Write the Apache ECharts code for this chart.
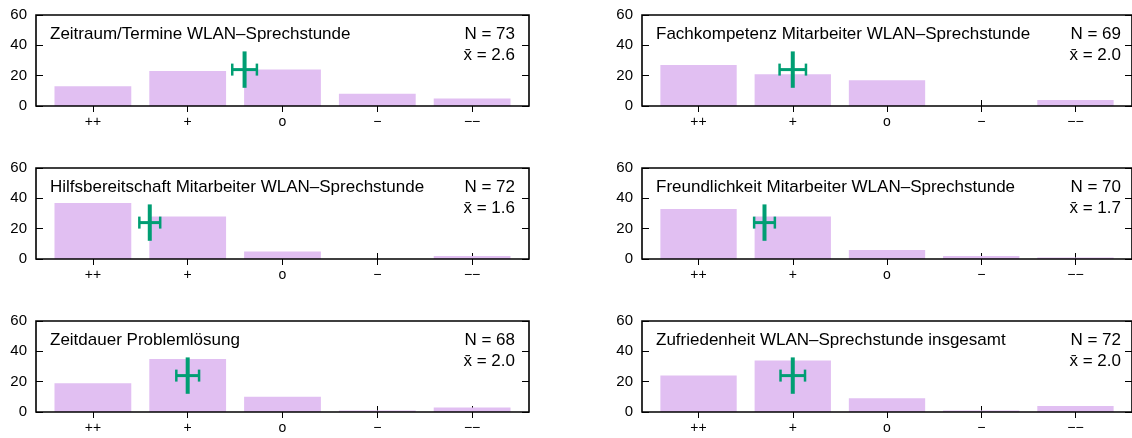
<!DOCTYPE html>
<html>
<head>
<meta charset="utf-8">
<script src="https://cdn.jsdelivr.net/npm/echarts@6/dist/echarts.min.js"></script>
<style>
  html, body { margin: 0; padding: 0; background: #fff; }
  #chart { width: 1132px; height: 438px; }
</style>
</head>
<body>
<div id="chart"></div>
<script>
// Rating scale (1 = "++" … 5 = "−−")
const categories = ['++', '+', 'o', '\u2212', '\u2212\u2212'];
const scaleValues = [1, 2, 3, 4, 5];

// Panel titles, left column first row-wise
const panelTitles = [
  'Zeitraum/Termine WLAN–Sprechstunde',
  'Fachkompetenz Mitarbeiter WLAN–Sprechstunde',
  'Hilfsbereitschaft Mitarbeiter WLAN–Sprechstunde',
  'Freundlichkeit Mitarbeiter WLAN–Sprechstunde',
  'Zeitdauer Problemlösung',
  'Zufriedenheit WLAN–Sprechstunde insgesamt'
];

// Answer counts per rating
const countsZeitraum        = [13, 23, 24, 8, 5];
const countsFachkompetenz   = [27, 21, 17, 0, 4];
const countsHilfsbereit     = [37, 28, 5, 0, 2];
const countsFreundlichkeit  = [33, 28, 6, 2, 1];
const countsZeitdauer       = [19, 35, 10, 1, 3];
const countsZufriedenheit   = [24, 34, 9, 1, 4];

// Sample size, mean rating and standard error of the mean
const sampleSizes = [73, 69, 72, 70, 68, 72];
const means       = [2.6, 2.0, 1.6, 1.7, 2.0, 2.0];
const stdErrors   = [0.13, 0.14, 0.11, 0.11, 0.12, 0.13];

// Mean marker: vertical stroke centred at this count level
const markerLevel = 24;
const markerHalfSpan = 12;

// Count axis
const yMin = 0, yMax = 60, yStep = 20;

const panelCounts = [
  countsZeitraum, countsFachkompetenz, countsHilfsbereit,
  countsFreundlichkeit, countsZeitdauer, countsZufriedenheit
];

// Layout
const colLeft = [36, 642];
const rowTop = [15, 168, 321];
const plotW = 493, plotH = 91;
const xMin = 0.4, xMax = 5.6;
const FONT = '"Liberation Sans", Arial, Helvetica, sans-serif';
const BAR_COLOR = '#e1bff2';
const MARK_COLOR = '#009e73';

const grid = [], xAxis = [], yAxis = [], series = [], graphic = [];

panelCounts.forEach((counts, i) => {
  const left = colLeft[i % 2];
  const top = rowTop[Math.floor(i / 2)];
  grid.push({
    left: left, top: top, width: plotW, height: plotH,
    show: true, borderColor: '#000', borderWidth: 1.6,
    backgroundColor: 'transparent', z: 4
  });

  // bottom axis with category names, plus mirrored top ticks
  xAxis.push({
    gridIndex: i, type: 'value', min: xMin, max: xMax, position: 'bottom',
    axisLine: { show: false },
    splitLine: { show: false },
    axisTick: { show: true, inside: true, length: 6, customValues: scaleValues,
                lineStyle: { color: '#000', width: 1 } },
    axisLabel: { show: true, customValues: scaleValues, margin: 9,
                 formatter: v => categories[Math.round(v) - 1],
                 color: '#000', fontSize: 14, fontFamily: FONT }
  });
  xAxis.push({
    gridIndex: i, type: 'value', min: xMin, max: xMax, position: 'top',
    axisLine: { show: false },
    splitLine: { show: false },
    axisTick: { show: true, inside: true, length: 6, customValues: scaleValues,
                lineStyle: { color: '#000', width: 1 } },
    axisLabel: { show: false }
  });

  yAxis.push({
    gridIndex: i, type: 'value', min: yMin, max: yMax, interval: yStep, position: 'left',
    axisLine: { show: false },
    splitLine: { show: false },
    axisTick: { show: true, inside: true, length: 7, lineStyle: { color: '#000', width: 1 } },
    axisLabel: { margin: 9, color: '#000', fontSize: 15, fontFamily: FONT }
  });
  yAxis.push({
    gridIndex: i, type: 'value', min: yMin, max: yMax, interval: yStep, position: 'right',
    axisLine: { show: false },
    splitLine: { show: false },
    axisTick: { show: true, inside: true, length: 7, lineStyle: { color: '#000', width: 1 } },
    axisLabel: { show: false }
  });

  // frequency bars
  series.push({
    type: 'custom',
    xAxisIndex: 2 * i, yAxisIndex: 2 * i,
    z: 2,
    data: counts.map((c, k) => [scaleValues[k], c]),
    renderItem: (params, api) => {
      const x = api.value(0), v = api.value(1);
      if (!v) return null;
      const a = api.coord([x - 0.405, v]);
      const b = api.coord([x + 0.405, 0]);
      return {
        type: 'rect',
        shape: { x: a[0], y: a[1], width: b[0] - a[0], height: b[1] - a[1] },
        style: { fill: BAR_COLOR }
      };
    }
  });

  // mean marker with standard-error bar
  series.push({
    type: 'custom',
    xAxisIndex: 2 * i, yAxisIndex: 2 * i,
    z: 3,
    data: [[means[i], markerLevel, stdErrors[i], markerHalfSpan]],
    renderItem: (params, api) => {
      const m = api.value(0), lvl = api.value(1), se = api.value(2), hs = api.value(3);
      const up = api.coord([m, lvl + hs]);
      const dn = api.coord([m, lvl - hs]);
      const l = api.coord([m - se, lvl]);
      const r = api.coord([m + se, lvl]);
      const cap = 6;
      const st = w => ({ stroke: MARK_COLOR, lineWidth: w, fill: null });
      return {
        type: 'group',
        children: [
          { type: 'line', shape: { x1: l[0], y1: l[1], x2: r[0], y2: r[1] }, style: st(3) },
          { type: 'line', shape: { x1: l[0], y1: l[1] - cap, x2: l[0], y2: l[1] + cap }, style: st(2.5) },
          { type: 'line', shape: { x1: r[0], y1: r[1] - cap, x2: r[0], y2: r[1] + cap }, style: st(2.5) },
          { type: 'line', shape: { x1: up[0], y1: up[1], x2: dn[0], y2: dn[1] }, style: st(4) }
        ]
      };
    }
  });

  // panel texts
  const txt = (x, y, text, align) => ({
    type: 'text', x: x, y: y, z: 10,
    style: { text: text, fill: '#000', fontSize: 17, fontFamily: FONT,
             align: align, verticalAlign: 'middle' }
  });
  graphic.push(txt(left + 14, top + 19, panelTitles[i], 'left'));
  graphic.push(txt(left + plotW - 14, top + 19, 'N = ' + sampleSizes[i], 'right'));
  graphic.push(txt(left + plotW - 14, top + 40.5, 'x\u0304 = ' + means[i].toFixed(1), 'right'));
});

const chart = echarts.init(document.getElementById('chart'), null, { renderer: 'canvas' });
chart.setOption({
  animation: false,
  backgroundColor: '#fff',
  grid: grid,
  xAxis: xAxis,
  yAxis: yAxis,
  series: series,
  graphic: graphic
});
</script>
</body>
</html>
